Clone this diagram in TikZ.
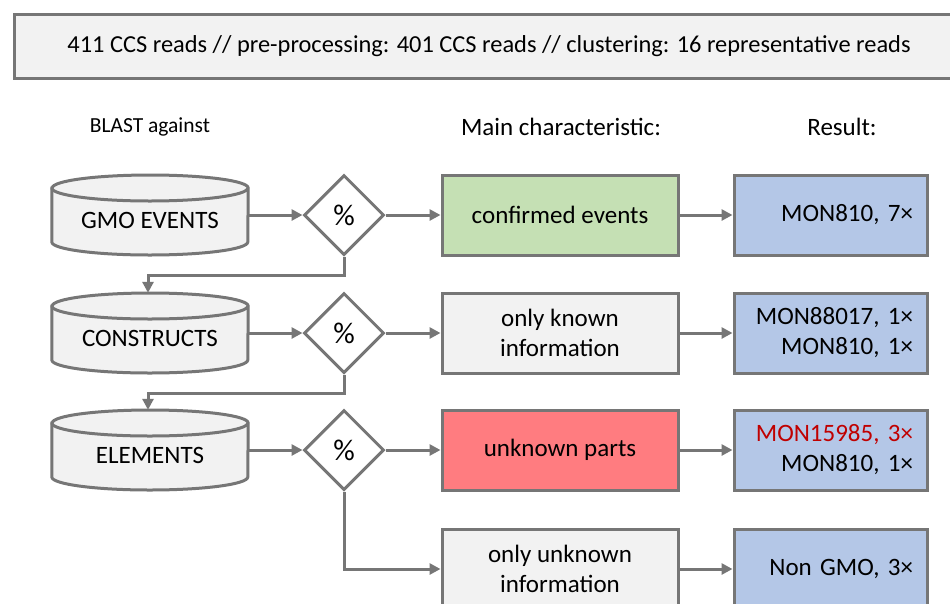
\documentclass[tikz,border=0pt]{standalone}
\usepackage{fontspec}
\setmainfont{Carlito}
\usetikzlibrary{shapes.geometric,arrows.meta,calc}
\definecolor{lineg}{RGB}{118,118,118}
\definecolor{boxgray}{RGB}{242,242,242}
\definecolor{greenfill}{RGB}{197,224,180}
\definecolor{redfill}{RGB}{255,124,128}
\definecolor{bluefill}{RGB}{180,199,231}
\definecolor{darkred}{RGB}{192,0,0}
\newcommand\dbshape[1]{%
  \fill[boxgray] ($(#1.west)+(0,-27)$) -- ($(#1.west)+(0,27)$)
     arc[start angle=180,end angle=360,x radius=98pt,y radius=13pt]
     -- ($(#1.east)+(0,-27)$)
     arc[start angle=0,end angle=180,x radius=98pt,y radius=13pt] -- cycle;
  \draw[frame] ($(#1.west)+(0,-27)$) -- ($(#1.west)+(0,27)$)
     arc[start angle=180,end angle=360,x radius=98pt,y radius=13pt]
     -- ($(#1.east)+(0,-27)$)
     arc[start angle=0,end angle=180,x radius=98pt,y radius=13pt] -- cycle;
  \draw[frame] ($(#1.west)+(0,-27)$)
     arc[start angle=180,end angle=360,x radius=98pt,y radius=13pt];
}
\begin{document}
\begin{tikzpicture}[x=1pt,y=-1pt,
  every node/.style={font=\fontsize{25}{30}\selectfont},
  frame/.style={draw=lineg,line width=3pt},
  cylnode/.style={minimum width=196pt,minimum height=80pt,inner sep=0pt},
  charbox/.style={frame,minimum width=236pt,minimum height=80pt,inner sep=0pt,align=center},
  resbox/.style={frame,fill=bluefill,minimum height=80pt,text width=165pt,align=right,inner xsep=14pt,inner ysep=0pt},
  decide/.style={frame,fill=white,diamond,minimum width=80pt,minimum height=80pt,inner sep=0pt,font=\fontsize{30}{34}\selectfont},
  arr/.style={draw=lineg,line width=3pt,-{Triangle[length=11pt,width=11pt]}},
  head/.style={font=\fontsize{25}{30}\selectfont}
]
\clip (0,0) rectangle (950,603);
\fill[white] (0,0) rectangle (950,603);

\node[frame,fill=boxgray,minimum width=949pt,minimum height=64pt,anchor=north west,inner sep=0pt,font=\fontsize{24.4}{29}\selectfont] (banner) at (13,13)
  {411 CCS reads // pre-processing: 401 CCS reads // clustering: 16 representative reads};

\node[font=\fontsize{21.5}{26}\selectfont] (hblast) at (150,127) {BLAST against};
\node[head] (hmain) at (561,127) {Main characteristic:};
\node[head] (hres) at (842,127) {Result:};

% row 1
\node[cylnode] (c1) at (150,215) {};
\dbshape{c1}
\node (t1) at (150,220) {GMO EVENTS};
\node[decide] (d1) at (344,215) {\%};
\node[charbox,fill=greenfill] (b1) at (560,215) {confirmed events};
\node[resbox] (r1) at (830.5,215) {MON810, 7×};

% row 2
\node[cylnode] (c2) at (150,333) {};
\dbshape{c2}
\node (t2) at (150,338) {CONSTRUCTS};
\node[decide] (d2) at (344,333) {\%};
\node[charbox,fill=boxgray] (b2) at (560,333) {only known\\information};
\node[resbox] (r2) at (830.5,333) {MON88017, 1×\\MON810, 1×};

% row 3
\node[cylnode] (c3) at (150,450) {};
\dbshape{c3}
\node (t3) at (150,455) {ELEMENTS};
\node[decide] (d3) at (344,450) {\%};
\node[charbox,fill=redfill] (b3) at (560,450) {unknown parts};
\node[resbox] (r3) at (830.5,450) {\textcolor{darkred}{MON15985, 3×}\\MON810, 1×};

% row 4
\node[charbox,fill=boxgray] (b4) at (560,569) {only unknown\\information};
\node[resbox] (r4) at (830.5,569) {Non GMO, 3×};

% connectors
\foreach \i in {1,2,3}{
  \draw[arr] (c\i.east) -- (d\i.west);
  \draw[arr] (d\i.east) -- (b\i.west);
  \draw[arr] (b\i.east) -- (r\i.west);
}
\draw[arr] (b4.east) -- (r4.west);
\draw[arr] (d1.south) -- ++(0,19) -| ($(c2.north)+(-2,0)$);
\draw[arr] (d2.south) -- ++(0,19) -| ($(c3.north)+(-2,0)$);
\draw[arr] (d3.south) |- (b4.west);
\end{tikzpicture}
\end{document}
